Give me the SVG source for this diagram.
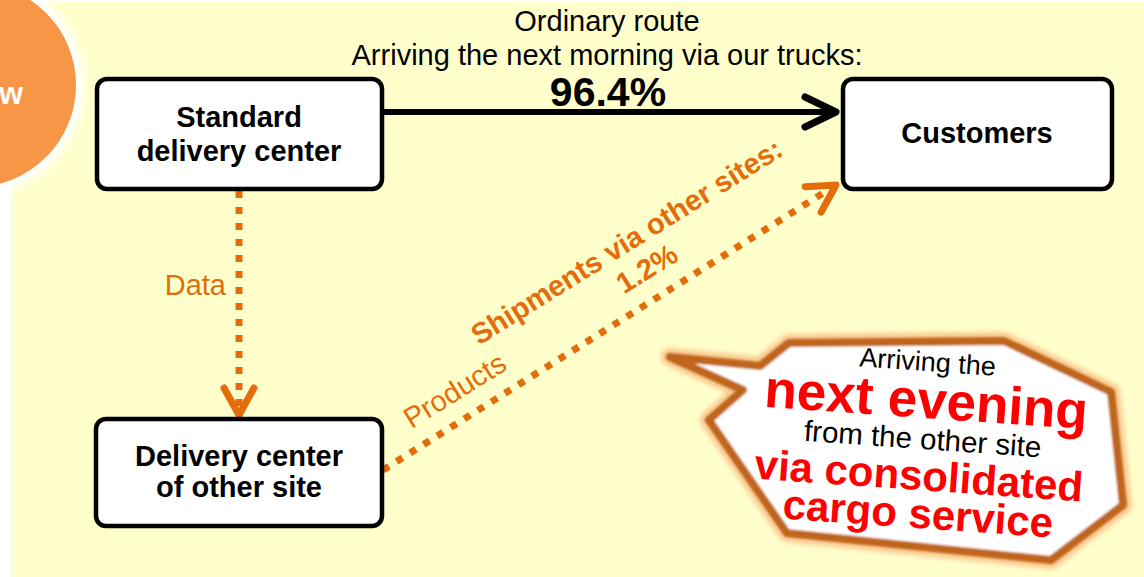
<svg xmlns="http://www.w3.org/2000/svg" width="1144" height="577" viewBox="0 0 1144 577">
<style>
text { font-family: "Liberation Sans", Arial, sans-serif; }
.box { fill: #ffffff; stroke: #000000; stroke-width: 4.5; }
.bt { font-size: 29px; font-weight: bold; fill: #000; text-anchor: middle; }
.hdr { font-size: 29px; fill: #000; text-anchor: middle; }
.or { fill: #E46C0A; font-size: 29px; }
.dot { fill: none; stroke: #E46C0A; stroke-width: 7; stroke-dasharray: 7 9; }
.blk { fill: none; stroke: #000; stroke-width: 6; }
.cb { fill: #000; text-anchor: middle; }
.cr { font-weight: bold; fill: #FF0000; text-anchor: middle; }
</style>
<defs>
<filter id="glow" x="-20%" y="-20%" width="140%" height="140%"><feGaussianBlur stdDeviation="2.5"/></filter>
<filter id="soft" x="-10%" y="-10%" width="120%" height="120%"><feGaussianBlur stdDeviation="0.8"/></filter>
<filter id="halo" x="-30%" y="-30%" width="160%" height="160%"><feGaussianBlur stdDeviation="4"/></filter>
<marker id="ahO" markerUnits="userSpaceOnUse" orient="auto" overflow="visible" markerWidth="1" markerHeight="1" refX="0" refY="0">
<path d="M-27,-15 L0,0 L-27,15" fill="none" stroke="#E46C0A" stroke-width="7" stroke-linecap="round" stroke-linejoin="round"/>
</marker>
<marker id="ahK" markerUnits="userSpaceOnUse" orient="auto" overflow="visible" markerWidth="1" markerHeight="1" refX="0" refY="0">
<path d="M-31,-15 L0,0 L-31,15" fill="none" stroke="#000" stroke-width="7" stroke-linecap="round" stroke-linejoin="round"/>
</marker>
</defs>
<rect x="0" y="0" width="1144" height="577" fill="#ffffff"/>
<rect x="11" y="2" width="1133" height="575" fill="#FFFFCC"/>
<g id="badge">
<circle cx="-26" cy="85" r="110" fill="#ffffff" filter="url(#halo)"/>
<circle cx="-26" cy="85" r="102" fill="#F79646"/>
<text x="-1" y="104" font-size="31" font-weight="bold" fill="#ffffff">w</text>
</g>
<g id="connectors">
<line class="blk" x1="383" y1="112" x2="836" y2="112" marker-end="url(#ahK)"/>
<line class="dot" x1="239" y1="191" x2="239" y2="415" marker-end="url(#ahO)"/>
<line class="dot" x1="383" y1="470" x2="836" y2="185" marker-end="url(#ahO)"/>
<text class="hdr" x="607" y="31">Ordinary route</text>
<text class="hdr" x="607" y="65">Arriving the next morning via our trucks:</text>
<text x="608" y="106" font-size="41" font-weight="bold" text-anchor="middle" fill="#000">96.4%</text>
<text class="or" x="226" y="295" text-anchor="end">Data</text>
<text class="or" x="460" y="399" text-anchor="middle" transform="rotate(-32 460 399)">Products</text>
<text class="or" x="632" y="250" text-anchor="middle" font-weight="bold" transform="rotate(-32 632 250)">Shipments via other sites:</text>
<text class="or" x="652" y="277" text-anchor="middle" font-weight="bold" transform="rotate(-32 652 277)">1.2%</text>
</g>
<g id="node-standard">
<rect class="box" x="97" y="79" width="285" height="110" rx="10"/>
<text class="bt" x="239" y="127">Standard</text>
<text class="bt" x="239" y="161">delivery center</text>
</g>
<g id="node-customers">
<rect class="box" x="843" y="79" width="269" height="110" rx="10"/>
<text class="bt" x="977" y="143">Customers</text>
</g>
<g id="node-other">
<rect class="box" x="96" y="419" width="286" height="107" rx="10"/>
<text class="bt" x="239" y="466">Delivery center</text>
<text class="bt" x="239" y="497">of other site</text>
</g>
<g id="callout">
<polygon points="670,357 760,366 789,343 1004,341 1111,392 1123,505 1051,560 787,533 709,420 743,390" fill="#FAC08F" stroke="#FAC890" stroke-width="18" stroke-linejoin="round" filter="url(#glow)"/>
<polygon points="670,357 760,366 789,343 1004,341 1111,392 1123,505 1051,560 787,533 709,420 743,390" fill="#ffffff" stroke="#C0651B" stroke-width="8" stroke-linejoin="round" filter="url(#soft)"/>
<text class="cb" x="927" y="371" font-size="27" transform="rotate(4 927 371)">Arriving the</text>
<text class="cr" x="925" y="418" font-size="53" transform="rotate(4 925 418)">next evening</text>
<text class="cb" x="922" y="449" font-size="29.5" transform="rotate(4 922 449)">from the other site</text>
<text class="cr" x="918" y="490" font-size="42" transform="rotate(4 918 490)">via consolidated</text>
<text class="cr" x="917" y="528" font-size="42" transform="rotate(4 917 528)">cargo service</text>
</g>
</svg>
